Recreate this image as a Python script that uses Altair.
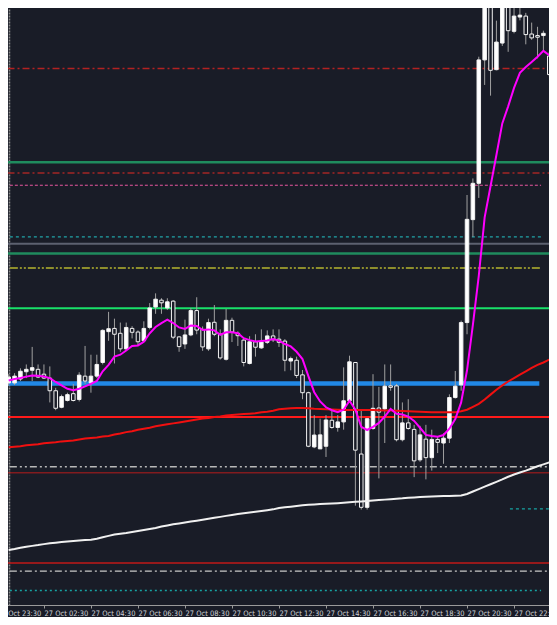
import json
import altair as alt
import pandas as pd

BG = "#191c27"

# ---- candle data (15-minute bars, index 0..92) ----
opens = [315, 315, 319, 326.5, 328, 329, 324, 320, 307, 290,
         297, 304, 298, 322, 315, 322, 336, 367.7, 371, 366,
         350, 371, 367.3, 358.3, 372, 393, 400, 392, 399, 362.3,
         355, 364.3, 389.3, 370, 350, 377.3, 365, 339.3, 379.3, 366,
         359, 335, 357.3, 351, 356.7, 363.3, 360, 358, 337.5, 338.3,
         323.3, 305, 249.3, 247.3, 250, 276.7, 269.3, 275, 296.7, 336,
         242, 187.3, 268.3, 289.3, 288.3, 312, 312, 256.7, 274, 267.3,
         236, 257.3, 238.3, 257, 253.3, 258.3, 300, 313, 377, 482.7,
         520, 646.7, 715, 636.7, 664, 708, 676, 690.7, 691.7, 673.3,
         671.7, 671.7, 650.7]
highs = [324, 325, 330, 334, 352, 334, 334, 332, 310, 303,
         305, 314, 326, 353, 344, 344, 370, 388, 381, 377,
         377, 373.3, 369, 378.3, 397, 407, 402, 402, 400, 363,
         380, 392, 403, 373, 381, 395, 370, 391, 382, 368,
         360, 363, 365, 370, 369, 370, 370, 360, 342, 342,
         328.3, 306, 282, 278.3, 282, 287, 282, 331, 343, 336,
         287, 279, 324, 311, 334, 334, 314, 295, 298.3, 272,
         271, 272, 267, 260, 263.3, 303.3, 327.3, 379, 508, 525,
         650, 725, 725, 687, 710, 712, 703, 702, 695, 685,
         680.7, 676.7, 655]
lows = [312, 313, 317, 320, 317, 320, 319, 295, 287, 289,
        296, 296, 296, 314, 305, 320, 334, 358.3, 335, 347,
        349, 360.7, 353.3, 357, 370, 386, 386, 390, 360, 347,
        350, 363, 365, 348, 348, 363, 339, 338, 357, 353,
        332, 334, 342, 350, 355, 357, 352, 327, 328, 320,
        298.3, 249, 248, 247.3, 239, 268, 265, 267, 296, 189,
        185, 185, 267, 217, 253.3, 307, 255, 255, 267, 218.3,
        234, 216, 225, 243, 232, 253.3, 299, 307, 365, 465,
        505, 621, 610, 636, 661, 655, 674, 687.3, 662.7, 667.3,
        648.3, 655, 630]
closes = [321, 322, 327, 329, 330.7, 321, 320, 307, 289, 301,
          303, 297, 323, 317, 322, 334, 369, 370.7, 365, 350,
          372, 367, 357.3, 371, 392, 401, 397.3, 398.3, 362, 352.3,
          364.3, 389.3, 369.3, 352, 377, 365, 340.7, 379.3, 367.3, 363.5,
          336, 357.3, 351.7, 357, 363.3, 359.3, 356.7, 338.3, 340, 322.7,
          305, 250, 261.5, 261.7, 277, 269.3, 275, 296.7, 336.7, 246,
          187.3, 278.3, 289, 285, 311.7, 310.5, 256.7, 274, 268.3, 235,
          261.7, 238.3, 257, 254, 258.3, 300, 311.7, 377, 483, 520,
          646.7, 710, 636, 665, 705, 676.7, 691.7, 692.7, 672.7, 669.3,
          670, 674, 631.7]

# ---- moving averages ----
ma_fast = [317.5, 319, 320, 321.5, 322.7, 322.5, 321.7, 320, 316, 312.5,
           309, 307.5, 309, 311.5, 314, 317, 327, 333.5, 342, 344,
           348.3, 353, 353.5, 357.3, 366, 372.5, 376.5, 380, 376.5, 372,
           370.5, 374, 373.5, 369.3, 370, 369, 364.5, 367, 367, 366,
           361, 359, 357.5, 358, 358.5, 360, 358.5, 355, 352.5, 347,
           339.5, 322, 305.5, 296, 290, 287, 285, 287.5, 296.7, 287.5,
           270, 266.7, 270, 274, 280.5, 288.3, 283.3, 282.5, 280.5, 276,
           269, 261.7, 260.5, 259.8, 261.5, 268, 278, 295, 328, 375,
           425, 485, 517, 549, 581.5, 599, 618, 633.5, 639.5, 644.5,
           650, 656, 651.5]
ma_mid = [249, 249.5, 250, 251, 251.5, 252, 253, 253.5, 254, 255,
          255.5, 256, 257, 258, 258.5, 259, 260, 260.5, 262, 263,
          264.5, 265.5, 267, 268, 269, 270.5, 271.5, 272.5, 273.5, 274.5,
          275.5, 276.5, 277.5, 278.5, 279, 280, 280.5, 281.5, 282, 282.5,
          283, 283.5, 284, 285, 285.5, 286.5, 288, 288.5, 289, 289.3,
          289.3, 289, 288.5, 288.3, 288, 287.7, 287.5, 287.3, 287.3, 287.3,
          287.3, 287.3, 287.3, 287, 286.8, 286.6, 286.4, 286.2, 286, 285.8,
          285.5, 285.2, 285, 285, 285, 285, 285, 286, 287.5, 290.5,
          293.5, 298, 303, 308, 312.5, 316.5, 320, 323.5, 327, 330.5,
          333.5, 336, 339]
ma_slow = [143.5, 144.5, 145.7, 146.8, 147.7, 148.5, 149.5, 150.3, 151, 151.7,
           152.3, 152.8, 153.3, 153.7, 154, 155, 156.5, 158, 159.3, 160.2,
           161, 162, 163, 164, 165, 166, 167.5, 168.7, 170, 170.8,
           171.7, 172.7, 173.6, 174.5, 175.5, 176.5, 177.5, 178.5, 179.5, 180.4,
           181.2, 182, 182.7, 183.5, 184.3, 185.2, 186.5, 187.3, 188, 188.7,
           189.4, 190, 190.3, 190.7, 191, 191.3, 191.6, 192, 192.5, 193,
           193.3, 193.7, 194.2, 194.7, 195.2, 195.7, 196.1, 196.5, 197.2, 197.5,
           197.8, 198.1, 198.4, 198.6, 198.8, 199, 199.2, 199.5, 201, 203.5,
           206, 208.5, 211, 213.5, 216, 218.7, 221, 223, 225, 227.2,
           229.4, 231.4, 233.5]

# ---- x axis ticks ----
tick_idx = [-2, 6, 14, 22, 30, 38, 46, 54, 62, 70, 78, 86]
tick_labels = ["26 Oct 23:30", "27 Oct 02:30", "27 Oct 04:30", "27 Oct 06:30",
               "27 Oct 08:30", "27 Oct 10:30", "27 Oct 12:30", "27 Oct 14:30",
               "27 Oct 16:30", "27 Oct 18:30", "27 Oct 20:30", "27 Oct 22:30"]

# ---- horizontal levels ----
level_prices = [638, 541.5, 530.5, 518, 465, 458, 448, 433, 391.7, 314.5,
                280, 229, 222.7, 130, 121.7, 102, 185.7]
level_starts = [-0.2, -0.2, -0.2, 0.2, 0.2, -0.2, -0.2, 0.2, -0.2, -0.2,
                -0.2, 0.2, -0.2, -0.2, 0.2, 0.2, 85.3]
level_ends = [93, 93, 93, 90.6, 90.6, 93, 93, 90.6, 93, 90.3,
              93, 93, 93, 93, 93, 90.6, 93]
level_styles = [
    dict(color="#b22222", strokeWidth=1.5, strokeDash=[7, 3, 2, 3]),
    dict(color="#1f8b5e", strokeWidth=2.5),
    dict(color="#a32626", strokeWidth=1.5, strokeDash=[7, 3, 2, 3]),
    dict(color="#e8559e", strokeWidth=1.2, strokeDash=[3, 2]),
    dict(color="#21a3a8", strokeWidth=1.2, strokeDash=[3, 3]),
    dict(color="#5c6170", strokeWidth=2),
    dict(color="#1f8b5e", strokeWidth=2.5),
    dict(color="#8e8e2c", strokeWidth=2, strokeDash=[8, 2, 2, 2, 2, 2]),
    dict(color="#19e06a", strokeWidth=2),
    dict(color="#2188e6", strokeWidth=4.5),
    dict(color="#ff1a1a", strokeWidth=2),
    dict(color="#b8b8b8", strokeWidth=1.5, strokeDash=[7, 3, 2, 3, 2, 3]),
    dict(color="#b71c1c", strokeWidth=1),
    dict(color="#c01818", strokeWidth=1.5),
    dict(color="#c8c8c8", strokeWidth=1.2, strokeDash=[7, 3, 2, 3]),
    dict(color="#17a2a2", strokeWidth=1.5, strokeDash=[2, 3]),
    dict(color="#17a2a2", strokeWidth=1.2, strokeDash=[3, 3]),
]

n = len(opens)
idx = list(range(n))
candles = pd.DataFrame({
    "idx": idx, "open": opens, "high": highs, "low": lows, "close": closes,
})
candles["bx0"] = candles["idx"] - 0.3
candles["bx1"] = candles["idx"] + 0.3
candles["blo"] = candles[["open", "close"]].min(axis=1)
candles["bhi"] = candles[["open", "close"]].max(axis=1)

mas = pd.DataFrame({"idx": idx, "fast": ma_fast, "mid": ma_mid, "slow": ma_slow})

W, H = 541, 597
X_MIN, X_MAX = -0.116, 91.95
X_LEFT = -2.1
px_per_bar = W / (X_MAX - X_MIN)
xscale = alt.Scale(domain=[X_LEFT, X_MAX], range=[(X_LEFT - X_MIN) * px_per_bar, W],
                   nice=False, zero=False)
yscale = alt.Scale(domain=[87, 700], nice=False, zero=False)

label_expr = "%s[indexof(%s, datum.value)]" % (json.dumps(tick_labels), json.dumps(tick_idx))
FONT = "Liberation Sans Narrow, DejaVu Sans Condensed, Liberation Sans, Arial"
x_axis = alt.Axis(values=tick_idx, labelExpr=label_expr, labelAlign="left",
                  labelBaseline="top", labelPadding=1, labelFontSize=7.5,
                  labelFont=FONT, labelColor="#cfd2d6", tickSize=3,
                  tickColor="#9a9a9a", domainColor="#9a9a9a", grid=False,
                  title=None, labelOverlap=False, labelFlush=False, labelBound=False)
y_axis = alt.Axis(labels=False, ticks=False, grid=False, title=None,
                  domainColor="#8c8c8c", domainDash=[2, 1], domainWidth=1.5, offset=-1)


def X(field):
    return alt.X(field, type="quantitative", scale=xscale, axis=x_axis)


def Y(field):
    return alt.Y(field, type="quantitative", scale=yscale, axis=y_axis)


layers = []
for p, s, e, st in zip(level_prices, level_starts, level_ends, level_styles):
    df = pd.DataFrame({"p": [p], "x0": [s], "x1": [e]})
    layers.append(
        alt.Chart(df).mark_rule(clip=True, **st).encode(x=X("x0"), x2="x1", y=Y("p"))
    )

wicks = alt.Chart(candles).mark_rule(color="#a0a0a0", strokeWidth=1, clip=True).encode(
    x=X("idx"), y=Y("low"), y2="high")
bodies = alt.Chart(candles).mark_rect(stroke="#f2f2f2", strokeWidth=1, clip=True).encode(
    x=X("bx0"), x2="bx1", y=Y("blo"), y2="bhi",
    fill=alt.condition("datum.close >= datum.open", alt.value("#ffffff"), alt.value(BG)))

line_slow = alt.Chart(mas).mark_line(color="#f0f0f0", strokeWidth=2, clip=True).encode(
    x=X("idx"), y=Y("slow"))
line_mid = alt.Chart(mas).mark_line(color="#f01010", strokeWidth=2, clip=True).encode(
    x=X("idx"), y=Y("mid"))
line_fast = alt.Chart(mas).mark_line(color="#ff00ff", strokeWidth=2, clip=True).encode(
    x=X("idx"), y=Y("fast"))

layers += [wicks, bodies, line_slow, line_mid, line_fast]

chart = alt.layer(*layers).properties(
    width=W, height=H,
    autosize=alt.AutoSizeParams(type="none"),
    padding={"left": 0, "top": 0, "right": 0, "bottom": 12},
    background=BG,
).configure_view(stroke=None)

chart.save("out.html", embed_options={"renderer": "svg", "actions": False})
